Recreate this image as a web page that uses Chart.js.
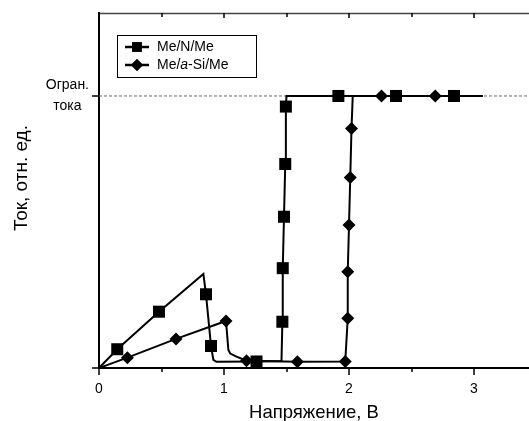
<!DOCTYPE html>
<html>
<head>
<meta charset="utf-8">
<script src="https://cdn.jsdelivr.net/npm/chart.js@4"></script>
<style>
  body { margin: 0; background: #fff; }
  canvas { display: block; }
</style>
</head>
<body>
<canvas id="iv-chart" width="529" height="421"></canvas>
<script>
// series names
const seriesLabels = ['Me/N/Me', 'Me/a-Si/Me'];

// Me/N/Me (squares); marks: 1 = point drawn with a marker
const nX = [0, 0.146, 0.48, 0.835, 0.856, 0.896, 0.915, 0.94, 1.26, 1.46, 1.467, 1.47, 1.48, 1.49, 1.495, 1.50, 1.915, 2.376, 2.84, 3.07];
const nY = [0, 0.069, 0.207, 0.346, 0.271, 0.081, 0.03, 0.023, 0.024, 0.026, 0.17, 0.367, 0.556, 0.75, 0.961, 1.0, 1.0, 1.0, 1.0, 1.0];
const nMarks = [0, 1, 1, 0, 1, 1, 0, 0, 1, 0, 1, 1, 1, 1, 1, 0, 1, 1, 1, 0];

// Me/a-Si/Me (diamonds)
const sX = [0, 0.227, 0.616, 1.016, 1.035, 1.05, 1.10, 1.18, 1.587, 1.97, 1.99, 1.99, 2.0, 2.01, 2.02, 2.03, 2.26, 2.69, 3.07];
const sY = [0, 0.038, 0.107, 0.173, 0.066, 0.053, 0.042, 0.027, 0.023, 0.024, 0.183, 0.354, 0.526, 0.70, 0.88, 1.0, 1.0, 1.0, 1.0];
const sMarks = [0, 1, 1, 1, 0, 0, 0, 1, 1, 1, 1, 1, 1, 1, 1, 0, 1, 1, 0];

// current limit level and axis ticks
const limitY = 1;
const xTicks = [0, 1, 2, 3];
const xMinorTicks = [0.5, 1.5, 2.5];
const yTicks = [0, 1];
const yTickLabels = ['', ['Огран.', 'тока']];
const yTitle = 'Ток, отн. ед.';

const xMax = 3.44;
const yMax = 1.305;
const FONT = "'Liberation Sans', Arial, sans-serif";

const toPts = (xs, ys) => xs.map((x, i) => ({x: x, y: ys[i]}));

// legend text pieces (second label has italic "a")
const legendParts = [
  [[seriesLabels[0], false]],
  [['Me/', false], ['a', true], ['-Si/Me', false]]
];

const extrasPlugin = {
  id: 'extras',
  afterDraw(chart) {
    const ctx = chart.ctx;
    const ca = chart.chartArea;
    const xs = chart.scales.x, ys = chart.scales.y;
    ctx.save();
    // top frame line
    ctx.strokeStyle = '#444';
    ctx.lineWidth = 1.5;
    ctx.beginPath();
    ctx.moveTo(ca.left, ca.top + 0.5);
    ctx.lineTo(ca.right, ca.top + 0.5);
    ctx.stroke();
    // tick marks
    ctx.strokeStyle = '#000';
    ctx.lineWidth = 1.5;
    xTicks.forEach(v => {
      const px = Math.round(xs.getPixelForValue(v));
      ctx.beginPath();
      ctx.moveTo(px, ca.bottom); ctx.lineTo(px, ca.bottom + 7);
      ctx.moveTo(px, ca.top); ctx.lineTo(px, ca.top + 5);
      ctx.stroke();
    });
    xMinorTicks.forEach(v => {
      const px = Math.round(xs.getPixelForValue(v));
      ctx.beginPath();
      ctx.moveTo(px, ca.bottom); ctx.lineTo(px, ca.bottom + 4);
      ctx.moveTo(px, ca.top); ctx.lineTo(px, ca.top + 4);
      ctx.stroke();
    });
    yTicks.forEach(v => {
      const py = Math.round(ys.getPixelForValue(v));
      ctx.beginPath();
      ctx.moveTo(ca.left, py); ctx.lineTo(ca.left - 7, py);
      ctx.stroke();
    });

    // y axis title
    ctx.save();
    ctx.translate(22, 178);
    ctx.rotate(-Math.PI / 2);
    ctx.font = '19px ' + FONT;
    ctx.fillStyle = '#000';
    ctx.textAlign = 'center';
    ctx.textBaseline = 'middle';
    ctx.fillText(yTitle, 0, 0);
    ctx.restore();

    // legend box
    const bx = 117.5, by = 35.5, bw = 139, bh = 42;
    ctx.fillStyle = '#fff';
    ctx.fillRect(bx, by, bw, bh);
    ctx.strokeStyle = '#000';
    ctx.lineWidth = 1;
    ctx.strokeRect(bx, by, bw, bh);
    [0, 1].forEach(i => {
      const ds = chart.data.datasets[i];
      const y = 47 + 18 * i;
      ctx.strokeStyle = '#000';
      ctx.lineWidth = 2.5;
      ctx.beginPath();
      ctx.moveTo(125, y); ctx.lineTo(149, y);
      ctx.stroke();
      Chart.helpers.drawPoint(ctx, {pointStyle: ds.pointStyle, radius: i === 0 ? 7 : 6, borderWidth: 0}, 137, y);
      ctx.fillStyle = '#000';
      ctx.fill();
      let tx = 157;
      ctx.textBaseline = 'middle';
      ctx.textAlign = 'left';
      legendParts[i].forEach(([txt, it]) => {
        ctx.font = (it ? 'italic ' : '') + '14px ' + FONT;
        ctx.fillText(txt, tx, y);
        tx += ctx.measureText(txt).width;
      });
    });
    ctx.restore();
  }
};

new Chart(document.getElementById('iv-chart'), {
  type: 'line',
  plugins: [extrasPlugin],
  data: {
    datasets: [{
      label: seriesLabels[0],
      data: toPts(nX, nY),
      borderColor: '#000',
      borderWidth: 2,
      backgroundColor: '#000',
      pointStyle: 'rect',
      pointRadius: nMarks.map(m => m ? 8.5 : 0),
      pointBackgroundColor: '#000',
      pointBorderWidth: 0,
      order: 1
    }, {
      label: seriesLabels[1],
      data: toPts(sX, sY),
      borderColor: '#000',
      borderWidth: 2,
      backgroundColor: '#000',
      pointStyle: 'rectRot',
      pointRadius: sMarks.map(m => m ? 6.5 : 0),
      pointBackgroundColor: '#000',
      pointBorderWidth: 0,
      order: 0
    }, {
      label: 'limit',
      data: [{x: 0, y: limitY}, {x: xMax, y: limitY}],
      borderColor: '#666',
      borderWidth: 1,
      borderDash: [3, 2],
      pointRadius: 0,
      order: 5
    }]
  },
  options: {
    responsive: false,
    animation: false,
    layout: { padding: { top: 13, right: 0, left: 0, bottom: 0 } },
    plugins: {
      legend: { display: false },
      tooltip: { enabled: false }
    },
    scales: {
      x: {
        type: 'linear',
        min: 0,
        max: xMax,
        afterFit: s => { s.height = 53; s.paddingLeft = 0; s.paddingRight = 0; },
        afterBuildTicks: s => { s.ticks = xTicks.map(v => ({value: v})); },
        grid: { display: false },
        border: { display: true, color: '#000', width: 2 },
        ticks: {
          padding: 5,
          color: '#000',
          font: { family: FONT, size: 14 },
          maxRotation: 0
        },
        title: {
          display: true,
          text: 'Напряжение, В',
          color: '#000',
          font: { family: FONT, size: 18.5, lineHeight: 1 },
          padding: { top: 0, bottom: -1 }
        }
      },
      y: {
        type: 'linear',
        min: 0,
        max: yMax,
        afterFit: s => { s.width = 99; s.paddingTop = 0; s.paddingBottom = 0; },
        afterBuildTicks: s => { s.ticks = yTicks.map(v => ({value: v})); },
        grid: { display: false },
        border: { display: true, color: '#000', width: 2 },
        ticks: {
          padding: 2,
          crossAlign: 'center',
          color: '#000',
          font: { family: FONT, size: 14, lineHeight: 1.5 },
          callback: (v) => { const i = yTicks.indexOf(v); return i >= 0 ? yTickLabels[i] : ''; }
        },
        title: { display: false }
      }
    }
  }
});
</script>
</body>
</html>
